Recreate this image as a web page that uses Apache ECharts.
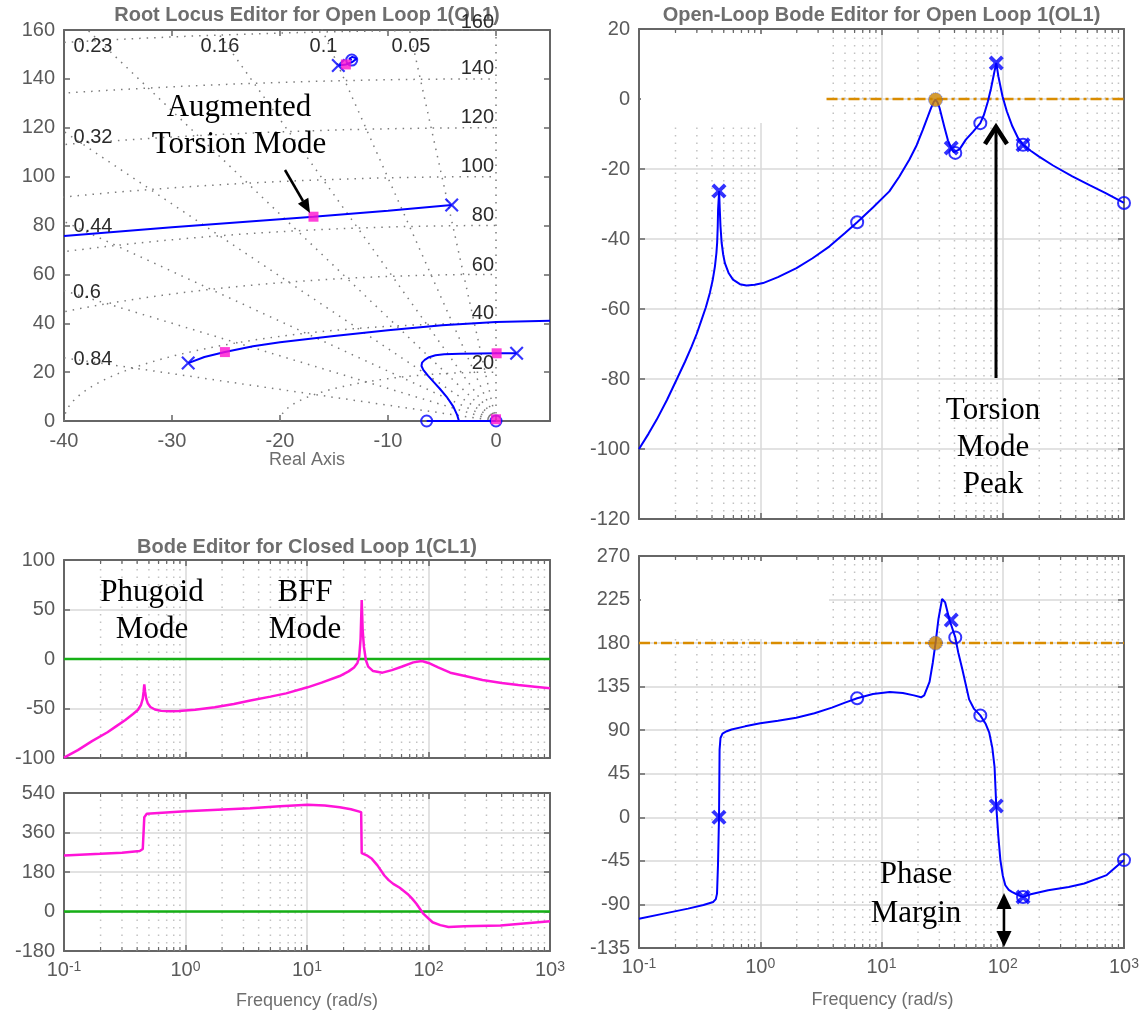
<!DOCTYPE html>
<html><head><meta charset="utf-8">
<script src="https://cdn.jsdelivr.net/npm/echarts@6/dist/echarts.min.js"></script>
<style>html,body{margin:0;padding:0;background:#fff}#c{width:1146px;height:1016px}</style>
</head><body><div id="c"></div>
<script>
// ================= DATA =================
// Root locus grid (sgrid) values
const rlZeta = [0.05, 0.1, 0.16, 0.23, 0.32, 0.44, 0.6, 0.84];
const rlWn = [20, 40, 60, 80, 100, 120, 140, 160];
// Root locus branches [real, imag]
const rlTorsionLocus = [[-40,75.7],[-30,79.3],[-20,82.6],[-16.9,83.6],[-10,86.0],[-4.1,88.4]];
const rlBffLocus = [[-28.5,23.7],[-27,26.2],[-25.1,28.2],[-22.5,30.6],[-20,32.2],[-15,34.8],[-10,37.1],[-5,39.2],[0,40.5],[5,41.0]];
const rlPhugoidLocus = [[-3.43,0],[-3.6,2.5],[-3.95,5.9],[-4.57,9.9],[-5.2,13.2],[-5.8,16.1],[-6.3,18.6],[-6.73,20.9],[-6.9,22.5],[-6.85,23.9],[-6.6,25.0],[-6.2,26.1],[-5.6,26.9],[-4.8,27.3],[-3.33,27.5],[-1.5,27.6],[0.06,27.7],[1.91,27.7]];
const rlRealAxisLocus = [[-6.42,0],[0,0]];
const rlHighLocus = [[-14.6,145.5],[-13.9,145.9],[-13.3,146.9],[-12.9,148.3],[-13.3,149.0],[-13.6,148.2],[-13.36,147.7]];
const rlPoles = [[-4.1,88.4],[-28.5,23.7],[1.91,27.7],[-14.6,145.5]];
const rlZeros = [[-6.42,0],[-13.36,147.7],[0,0]];
const rlClosedLoopPoles = [[-16.9,83.6],[-25.1,28.2],[0.06,27.7],[0,0.7],[-13.9,145.9]];

// Open-loop Bode [rad/s, dB] and [rad/s, deg]
const olMag = [[0.1,-100],[0.12,-95.6],[0.14,-91.6],[0.17,-86],[0.204,-80.2],[0.24,-75],[0.272,-70.7],[0.3,-67],[0.328,-63.1],[0.356,-59.5],[0.384,-55.4],[0.405,-51.8],[0.423,-47.8],[0.435,-44],[0.441,-41.1],[0.446,-36.5],[0.449,-31.6],[0.458,-26.3],[0.463,-31],[0.47,-36.4],[0.48,-41],[0.495,-44.5],[0.511,-46.9],[0.55,-49.8],[0.596,-51.6],[0.68,-52.9],[0.77,-53.3],[0.9,-53.1],[1.055,-52.6],[1.4,-50.9],[1.99,-48.3],[2.7,-45.5],[3.73,-42.1],[5,-38.3],[6.3,-35.2],[8.5,-31],[11.6,-26.4],[14,-22.2],[17,-17.3],[19.5,-13.2],[21.9,-8.8],[24,-5.2],[25.6,-2.6],[27,-0.8],[27.9,-0.2],[29,-1],[30.1,-2.5],[33,-8],[35.3,-11.8],[37.6,-14],[39.5,-15.2],[41,-15.4],[44,-14.4],[49.6,-11.6],[57,-9.3],[65.3,-6.9],[70,-4.5],[75.3,-0.8],[80,3],[85,7.5],[88.4,10.3],[92,6.5],[99.6,0.7],[108,-3.5],[120,-7.8],[133,-11],[147,-13.1],[170,-14.8],[198,-16.4],[260,-19],[375,-22.1],[520,-24.6],[706,-26.9],[1000,-29.7]];
const olPhase = [[0.1,-104.8],[0.16,-99.5],[0.254,-94.3],[0.34,-90.5],[0.41,-87.4],[0.43,-84.5],[0.44,-78.8],[0.448,-50],[0.457,0],[0.462,70],[0.47,82],[0.488,86.5],[0.53,89],[0.58,90.8],[0.75,94],[1.0,97.1],[1.4,99.8],[1.98,102.9],[2.8,107.5],[3.9,113.3],[5,118.5],[6.3,123],[8.5,127.5],[11.7,129.5],[15,128.5],[18.5,126],[21.2,124],[22.5,126],[24.9,140],[26.5,160],[27.9,180],[29.5,205],[31.6,225.6],[33.5,222],[36.2,204.9],[40.6,185.9],[43,170],[46.4,153],[52.8,121.9],[58,112],[65.3,105.3],[72,97],[77.4,87.4],[82,72],[85.6,52],[88.4,11.8],[92,-20],[95.6,-44.2],[100,-60],[105,-70.2],[112,-75],[118.9,-77.1],[135,-80.5],[147,-82.3],[170,-79.5],[237,-75.3],[350,-72],[470,-68.4],[720,-59.7],[1000,-44.2]];
const olPoleFreqs = [0.457, 37.6, 88.4, 147];
const olPoleMag = [-26.3, -14, 10.3, -13.1];
const olPolePhase = [0, 203.8, 11.8, -82.3];
const olZeroFreqs = [6.3, 40.6, 65.3, 147, 1000];
const olZeroMag = [-35.2, -15.4, -6.9, -13.1, -29.7];
const olZeroPhase = [123, 185.9, 105.3, -82.3, -44.2];
const olCompFreq = [27.9];
const olCompMag = [-0.2];
const olCompPhase = [180];

// Closed-loop Bode [rad/s, dB] and [rad/s, deg]
const clMag = [[0.1,-99.7],[0.13,-92],[0.17,-83],[0.228,-74],[0.27,-67.8],[0.32,-61.6],[0.37,-55.5],[0.405,-51.5],[0.43,-46.5],[0.445,-40],[0.452,-33],[0.458,-25.6],[0.465,-33],[0.475,-40],[0.49,-45],[0.514,-48.5],[0.56,-51],[0.63,-52.4],[0.75,-52.8],[0.884,-52.6],[1.2,-51.2],[1.74,-48.8],[2.5,-45.5],[3.42,-42],[5,-38],[6.73,-34.7],[10.1,-28.6],[13.2,-23.9],[18.6,-17.2],[22,-12.5],[24.4,-8.5],[26,-4],[26.9,2.4],[27.6,20],[28.2,59.6],[28.7,30],[29.4,12.5],[30.5,-1],[31.9,-7.7],[35,-12.2],[41.8,-13.8],[50,-11.2],[60,-7.8],[75,-3.4],[88.1,-2],[100,-4],[120,-8.5],[151,-13.8],[200,-17.2],[278,-21.2],[400,-24.2],[548,-26.3],[750,-28],[1000,-29.6]];
const clPhase = [[0.1,255],[0.2,263],[0.3,268],[0.42,276],[0.445,285],[0.458,430],[0.48,445],[1.0,457],[3.4,471],[6,480],[10.1,486],[14,483],[18.6,475],[23,466],[27.9,453],[28.2,266],[31,256],[34.2,240],[38,210],[43.3,164],[47,143],[51.3,126],[58,108],[67.2,80],[73,60],[79.5,35],[91,-11],[100,-32],[108,-49],[125,-62],[146,-71],[198,-67],[391,-64],[1000,-44]];

// Frequency grid
const decades = [0.1, 1, 10, 100];
const minorMult = [2,3,4,5,6,7,8,9];

// ================= STYLE =================
const FONT = '"Liberation Sans", Arial, Helvetica, sans-serif';
const SERIF = '"Liberation Serif", "Times New Roman", serif';
const AX = '#666666', LBL = '#5a5a5a', GRIDC = '#d9d9d9', MINOR = '#c2c2c2';
const BLUE = '#0000ff', PINK = '#ff14d8', GREEN = '#16b016', ORANGE = '#d98c00';
const X_BOLD = 'path://M1.8,0L5,3.2L8.2,0L10,1.8L6.8,5L10,8.2L8.2,10L5,6.8L1.8,10L0,8.2L3.2,5L0,1.8Z';
const X_THIN = 'path://M1.1,0L5,3.9L8.9,0L10,1.1L6.1,5L10,8.9L8.9,10L5,6.1L1.1,10L0,8.9L3.9,5L0,1.1Z';

const minorFreqs = [];
decades.forEach(d => minorMult.forEach(m => minorFreqs.push(+(d*m).toPrecision(3))));

const gridsPx = [
  {left:64, top:30, width:486, height:391},   // 0 root locus
  {left:639, top:29, width:485, height:490},  // 1 OL mag
  {left:64, top:560, width:486, height:198},  // 2 CL mag
  {left:64, top:793, width:486, height:158},  // 3 CL phase
  {left:639, top:556, width:485, height:392}  // 4 OL phase
].map(g => Object.assign({containLabel:false, outerBoundsMode:'none'}, g));

function baseAxis(extra){
  return Object.assign({
    axisLine:{show:true, onZero:false, lineStyle:{color:AX, width:2}},
    axisTick:{show:true, inside:true, length:6, lineStyle:{color:AX, width:1.5}},
    axisLabel:{show:false},
    splitLine:{show:false},
    silent:true
  }, extra);
}
const logLabel = {
  show:true, margin:9, color:LBL, fontFamily:FONT,
  formatter: v => '{b|10}{s|' + Math.round(Math.log10(v)) + '}',
  rich:{
    b:{fontSize:20, lineHeight:20, verticalAlign:'bottom', color:LBL, fontFamily:FONT},
    s:{fontSize:14, lineHeight:13, padding:[0,0,15,0], verticalAlign:'top', color:LBL, fontFamily:FONT}
  }
};
function logX(g, labels){
  return [
    baseAxis({type:'log', logBase:10, gridIndex:g, position:'bottom', min:0.1, max:1000,
      splitLine:{show:true, lineStyle:{color:GRIDC, width:1.5}}, axisLabel: labels ? logLabel : {show:false}}),
    baseAxis({type:'log', logBase:10, gridIndex:g, position:'top', min:0.1, max:1000})
  ];
}
function valY(g, min, max, interval, split){
  return [
    baseAxis({type:'value', gridIndex:g, position:'left', min, max, interval,
      axisLabel:{show:true, margin:9, color:LBL, fontSize:20, fontFamily:FONT},
      splitLine:{show:split, lineStyle:{color:GRIDC, width:1.5}}}),
    baseAxis({type:'value', gridIndex:g, position:'right', min, max, interval})
  ];
}

const xAxes = [
  baseAxis({type:'value', gridIndex:0, position:'bottom', min:-40, max:5, interval:10,
    axisLabel:{show:true, margin:10, color:LBL, fontSize:20, fontFamily:FONT, showMaxLabel:false,
      formatter: v => (v > 0 ? '' : String(v))}}),
  baseAxis({type:'value', gridIndex:0, position:'top', min:-40, max:5, interval:10})
].concat(logX(1,false), logX(2,false), logX(3,true), logX(4,true));
const yAxes = valY(0, 0, 160, 20, false)
  .concat(valY(1, -120, 20, 20, true), valY(2, -100, 100, 50, true), valY(3, -180, 540, 180, true), valY(4, -135, 270, 45, true));

// ================= SERIES =================
function line(g, data, color, width, extra){
  return Object.assign({type:'line', xAxisIndex:2*g, yAxisIndex:2*g, data, symbol:'none', silent:true,
    animation:false, clip:true, z:2, lineStyle:{color, width}}, extra || {});
}
function scatter(g, data, symbol, size, itemStyle, z){
  return {type:'scatter', xAxisIndex:2*g, yAxisIndex:2*g, data, symbol, symbolSize:size,
    itemStyle, silent:true, animation:false, clip:false, z: z || 3};
}
function minorGrid(g, yMin, yMax){
  const d = [];
  minorFreqs.forEach(w => { d.push([w, yMin], [w, yMax], ['-', '-']); });
  return line(g, d, MINOR, 1.5, {z:1, lineStyle:{color:MINOR, width:1.5, type:[1.5, 6]}});
}
// minor tick marks (4 px long) on the top and bottom frame of a log axis
function minorTicks(g, yMin, yMax){
  const hPx = gridsPx[g].height, d = (yMax - yMin) * 4 / hPx, out = [];
  minorFreqs.forEach(w => { out.push([w, yMin], [w, yMin + d], ['-','-'], [w, yMax], [w, yMax - d], ['-','-']); });
  return line(g, out, AX, 1.2, {z:2});
}
const zip = (xs, ys) => xs.map((x, i) => [x, ys[i]]);

// sgrid
const rayData = [];
rlZeta.concat([0]).forEach(z => { rayData.push([0,0], [-400*z, 400*Math.sqrt(1 - z*z)], ['-','-']); });
const arcData = [];
rlWn.forEach(w => { for (let a = 0; a <= 90; a += 1) { const r = a*Math.PI/180; arcData.push([-w*Math.cos(r), w*Math.sin(r)]); } arcData.push(['-','-']); });
const sgridStyle = {color:'#7c7c7c', width:1.5, type:[1.5, 6]};

const circleStyle = {color:'rgba(0,0,0,0)', borderColor:BLUE, borderWidth:2};
const compStyle = {color:'#c98200', borderColor:'#3355ff', borderWidth:1, borderType:'dotted'};

const series = [
  line(0, rayData, '#7c7c7c', 1.5, {z:1, lineStyle:sgridStyle}),
  line(0, arcData, '#7c7c7c', 1.5, {z:1, lineStyle:sgridStyle}),
  line(0, rlTorsionLocus, BLUE, 2),
  line(0, rlBffLocus, BLUE, 2),
  line(0, rlPhugoidLocus, BLUE, 2),
  line(0, rlRealAxisLocus, BLUE, 2),
  line(0, rlHighLocus, BLUE, 2),
  scatter(0, rlPoles, X_THIN, 14, {color:BLUE}),
  scatter(0, rlZeros, 'circle', 11, circleStyle),
  scatter(0, rlClosedLoopPoles, 'rect', 10, {color:'#ff10d0'}, 4),

  // OL magnitude
  minorGrid(1, -120, 20),
  minorTicks(1, -120, 20),
  line(1, [[3.52,0],[1000,0]], ORANGE, 2.5, {lineStyle:{color:ORANGE, width:2.5, type:[11,4,3,4]}}),
  line(1, olMag, BLUE, 2),
  scatter(1, zip(olPoleFreqs, olPoleMag), X_BOLD, 15, {color:BLUE}),
  scatter(1, zip(olZeroFreqs, olZeroMag), 'circle', 12, circleStyle),
  scatter(1, zip(olCompFreq, olCompMag), 'circle', 14, compStyle),

  // CL magnitude
  minorGrid(2, -100, 100),
  minorTicks(2, -100, 100),
  line(2, [[0.1,0],[1000,0]], GREEN, 2.5),
  line(2, clMag, PINK, 2.5),

  // CL phase
  minorGrid(3, -180, 540),
  minorTicks(3, -180, 540),
  line(3, [[0.1,0],[1000,0]], GREEN, 2.5),
  line(3, clPhase, PINK, 2.5),

  // OL phase
  minorGrid(4, -135, 270),
  minorTicks(4, -135, 270),
  line(4, [[0.1,180],[1000,180]], ORANGE, 2.5, {lineStyle:{color:ORANGE, width:2.5, type:[11,4,3,4]}}),
  line(4, olPhase, BLUE, 2),
  scatter(4, zip(olPoleFreqs, olPolePhase), X_BOLD, 15, {color:BLUE}),
  scatter(4, zip(olZeroFreqs, olZeroPhase), 'circle', 12, circleStyle),
  scatter(4, zip(olCompFreq, olCompPhase), 'circle', 14, compStyle)
];

// ================= TEXT / ANNOTATIONS =================
function txt(text, x, y, font, fill, align, extra){
  return Object.assign({type:'text', silent:true, z:10, style:{text, x, y, font, fill,
    align: align || 'center', verticalAlign:'middle', textAlign: align || 'center', textVerticalAlign:'middle'}}, extra || {});
}
function mtxt(text, x, y, lh){
  const t = txt(text, x, y, '31px ' + SERIF, '#000');
  t.style.lineHeight = lh; return t;
}
const LAB = '20px ' + FONT, LABC = '#2b2b2b';
const graphics = [
  // blank patches (as in reference)
  {type:'rect', silent:true, z:1.5, shape:{x:641, y:34, width:188, height:89}, style:{fill:'#fff'}},
  {type:'rect', silent:true, z:1.5, shape:{x:641, y:561, width:188, height:78}, style:{fill:'#fff'}},
  // titles
  txt('Root Locus Editor for Open Loop 1(OL1)', 307, 15, 'bold 20px ' + FONT, '#6e6e6e'),
  txt('Open-Loop Bode Editor for Open Loop 1(OL1)', 881.5, 15, 'bold 20px ' + FONT, '#6e6e6e'),
  txt('Bode Editor for Closed Loop 1(CL1)', 307, 547, 'bold 20px ' + FONT, '#6e6e6e'),
  txt('Real Axis', 307, 460, '18px ' + FONT, '#6e6e6e'),
  txt('Frequency (rad/s)', 307, 1001, '18px ' + FONT, '#6e6e6e'),
  txt('Frequency (rad/s)', 882.5, 1000, '18px ' + FONT, '#6e6e6e'),
  // damping labels
  txt('0.23', 93, 46, LAB, LABC), txt('0.16', 220, 46, LAB, LABC), txt('0.1', 323.5, 46, LAB, LABC), txt('0.05', 411, 46, LAB, LABC),
  txt('0.32', 93, 137, LAB, LABC), txt('0.44', 93, 226, LAB, LABC), txt('0.6', 87, 292, LAB, LABC), txt('0.84', 93, 359, LAB, LABC),
  // natural frequency labels
  txt('160', 494, 22, LAB, LABC, 'right'), txt('140', 494, 68, LAB, LABC, 'right'), txt('120', 494, 117, LAB, LABC, 'right'),
  txt('100', 494, 166, LAB, LABC, 'right'), txt('80', 494, 215, LAB, LABC, 'right'), txt('60', 494, 265, LAB, LABC, 'right'),
  txt('40', 494, 313, LAB, LABC, 'right'), txt('20', 494, 363, LAB, LABC, 'right'),
  // annotations
  mtxt('Augmented\nTorsion Mode', 239, 126.5, 37),
  mtxt('Phugoid\nMode', 152, 611.5, 37),
  mtxt('BFF\nMode', 305, 611.5, 37),
  mtxt('Torsion\nMode\nPeak', 993, 448, 37),
  mtxt('Phase\nMargin', 916, 894, 39),
  // arrows
  {type:'line', silent:true, z:10, shape:{x1:285, y1:170, x2:303, y2:201}, style:{stroke:'#000', lineWidth:2.5}},
  {type:'polygon', silent:true, z:10, shape:{points:[[310,213],[297.9,203.8],[308.3,197.8]]}, style:{fill:'#000'}},
  {type:'line', silent:true, z:10, shape:{x1:996, y1:378, x2:996, y2:128}, style:{stroke:'#000', lineWidth:3}},
  {type:'polyline', silent:true, z:10, shape:{points:[[985,144],[996,127],[1007,144]]}, style:{stroke:'#000', lineWidth:4.5, fill:null}},
  {type:'line', silent:true, z:10, shape:{x1:1004, y1:906, x2:1004, y2:934}, style:{stroke:'#000', lineWidth:2.5}},
  {type:'polygon', silent:true, z:10, shape:{points:[[1004,893],[996.5,909],[1011.5,909]]}, style:{fill:'#000'}},
  {type:'polygon', silent:true, z:10, shape:{points:[[1004,947],[996.5,931],[1011.5,931]]}, style:{fill:'#000'}}
];

const chart = echarts.init(document.getElementById('c'), null, {renderer:'canvas', width:1146, height:1016});
chart.setOption({
  backgroundColor:'#ffffff',
  animation:false,
  grid: gridsPx,
  xAxis: xAxes,
  yAxis: yAxes,
  series,
  graphic: {elements: graphics}
});
</script>
</body></html>
